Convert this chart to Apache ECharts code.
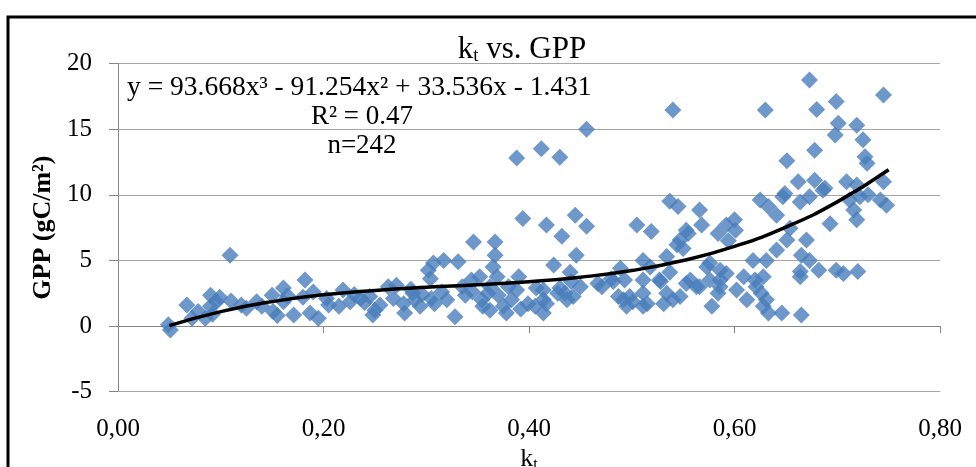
<html lang="en">
<head>
  <meta charset="UTF-8">
  <title>kt vs. GPP</title>
  <script src="https://cdn.jsdelivr.net/npm/echarts@6/dist/echarts.min.js"></script>
  <style>
    body { margin: 0; padding: 0; background: #fff; }
    #chart { width: 976px; height: 467px; }
  </style>
</head>
<body>
  <div id="chart"></div>
  <script>
    let kt = [
      0.049, 0.051, 0.067, 0.072, 0.078, 0.085, 0.090, 0.090, 0.099, 0.096,
      0.109, 0.125, 0.135, 0.150, 0.151, 0.161, 0.161, 0.171, 0.182, 0.180,
      0.187, 0.195, 0.190, 0.203, 0.219, 0.226, 0.236, 0.245, 0.248, 0.255,
      0.263, 0.155, 0.165, 0.205, 0.230, 0.250, 0.140, 0.120, 0.092, 0.215,
      0.240, 0.110,
      0.271, 0.268, 0.279, 0.278, 0.289, 0.294, 0.302, 0.304, 0.307, 0.317,
      0.305, 0.308, 0.320, 0.328, 0.331, 0.338, 0.344, 0.346, 0.352, 0.354,
      0.355, 0.362, 0.367, 0.367, 0.365, 0.369, 0.362, 0.375, 0.370, 0.380,
      0.383, 0.388, 0.390, 0.394, 0.399, 0.406, 0.407, 0.287, 0.392, 0.285,
      0.296, 0.315, 0.335, 0.345, 0.360, 0.378,
      0.388, 0.412, 0.430, 0.456, 0.540, 0.417, 0.432, 0.445, 0.456, 0.446,
      0.424, 0.440, 0.441, 0.505, 0.519, 0.511, 0.489, 0.537, 0.545, 0.544,
      0.534, 0.414, 0.414, 0.430, 0.435, 0.443, 0.450, 0.467, 0.482, 0.487,
      0.492, 0.501, 0.511, 0.515, 0.511, 0.528, 0.534, 0.540, 0.414, 0.417,
      0.428, 0.437, 0.471, 0.480, 0.493, 0.495, 0.511, 0.518, 0.527, 0.537,
      0.550, 0.547, 0.553, 0.553, 0.531, 0.498, 0.547, 0.557, 0.563,
      0.630, 0.566, 0.568, 0.555, 0.584, 0.592, 0.600, 0.601, 0.625, 0.633,
      0.641, 0.594, 0.641, 0.618, 0.631, 0.573, 0.578, 0.584, 0.586, 0.592,
      0.602, 0.609, 0.612, 0.621, 0.628, 0.631, 0.633, 0.651, 0.649, 0.654,
      0.651, 0.620, 0.626, 0.628, 0.646, 0.576, 0.586, 0.576, 0.566, 0.586,
      0.647,
      0.673, 0.680, 0.699, 0.745, 0.701, 0.698, 0.719, 0.725, 0.678, 0.727,
      0.729, 0.709, 0.745, 0.662, 0.678, 0.688, 0.719, 0.722, 0.730, 0.748,
      0.712, 0.716, 0.719, 0.693, 0.673, 0.664, 0.686, 0.670, 0.665, 0.673,
      0.682, 0.664, 0.699, 0.664, 0.706, 0.720, 0.665, 0.742
    ];
    // GPP values (gC/m2), same order as kt
    let gpp = [
      0.1, -0.3, 1.6, 0.6, 1.1, 0.6, 2.35, 1.5, 2.2, 1.85,
      5.4, 1.35, 1.85, 2.35, 1.1, 2.9, 1.85, 0.85, 3.5, 2.2,
      1.0, 0.6, 2.6, 2.1, 2.75, 1.85, 2.1, 2.25, 0.85, 1.6,
      3.0, 0.8, 2.3, 1.6, 2.4, 1.2, 1.5, 1.6, 0.9, 1.5,
      1.8, 1.9,
      3.1, 2.1, 1.0, 1.7, 2.0, 1.5, 4.25, 3.6, 4.8, 5.0,
      2.1, 1.7, 2.0, 0.7, 4.9, 2.35, 3.5, 6.4, 3.75, 2.0,
      1.5, 3.0, 6.4, 5.4, 4.5, 3.75, 1.2, 1.5, 2.35, 3.0,
      2.0, 2.75, 3.75, 8.2, 1.7, 1.5, 2.9, 2.5, 1.3, 2.8,
      2.4, 2.6, 3.0, 2.6, 2.5, 1.0,
      12.8, 13.5, 12.85, 15.0, 16.45, 7.7, 6.85, 8.45, 7.6, 5.4,
      4.65, 4.1, 3.4, 7.7, 7.2, 5.0, 4.4, 9.5, 9.1, 6.2,
      5.3, 1.0, 2.0, 2.9, 2.5, 2.25, 3.0, 3.25, 3.4, 2.25,
      2.0, 1.85, 2.5, 1.7, 3.5, 3.4, 2.5, 2.0, 2.75, 1.7,
      2.5, 2.0, 3.0, 3.6, 3.5, 1.5, 1.5, 4.5, 3.5, 4.1,
      5.9, 6.55, 7.3, 3.25, 1.7, 2.25, 2.25, 3.5, 3.0,
      16.45, 8.85, 7.7, 7.05, 7.05, 7.7, 8.1, 7.3, 9.6, 9.1,
      8.45, 6.5, 5.8, 5.0, 5.0, 4.5, 1.5, 2.5, 3.5, 4.0,
      2.75, 3.75, 2.0, 3.0, 3.75, 2.0, 1.0, 12.6, 10.1, 7.45,
      6.55, 3.5, 2.5, 1.5, 1.0, 4.8, 4.25, 3.5, 3.0, 3.0,
      9.85,
      18.75, 16.5, 17.1, 17.6, 15.45, 14.55, 15.3, 14.2, 13.4, 12.9,
      12.4, 11.0, 11.0, 11.0, 11.1, 10.5, 10.75, 9.85, 10.0, 9.2,
      9.6, 8.85, 8.1, 7.8, 9.85, 9.45, 10.35, 6.55, 5.4, 5.0,
      4.25, 3.75, 4.25, 4.15, 4.0, 4.15, 0.85, 9.6
    ];

    // points
    let trendKt = [0.05, 0.10, 0.15, 0.20, 0.25, 0.30, 0.35, 0.40, 0.45, 0.50, 0.55, 0.60, 0.65, 0.70, 0.75];
    let trendGpp = [0.03, 1.10, 1.86, 2.38, 2.71, 2.95, 3.14, 3.38, 3.72, 4.23, 4.99, 6.07, 7.54, 9.46, 11.91];

    let yTicks = [-5, 0, 5, 10, 15, 20];
    let xTicks = [0, 0.2, 0.4, 0.6, 0.8];

    let serif = '"Liberation Serif", "DejaVu Serif", serif';
    let gridGray = '#a6a6a6';

    let chart = echarts.init(document.getElementById('chart'));

    let option = {
      animation: false,
      title: {
        text: '{k|k}{s|t}{k| vs. GPP}',
        left: 517,
        top: 28,
        textAlign: 'center',
        textStyle: {
          fontWeight: 'normal',
          rich: {
            k: { fontFamily: serif, fontSize: 31, fontWeight: 'normal', color: '#000' },
            s: { fontFamily: serif, fontSize: 19, fontWeight: 'normal', color: '#000', padding: [14, 0, 0, 0] }
          }
        }
      },
      grid: {
        left: 118,
        right: 36,
        top: 63.5,
        bottom: 75.3,
        outerBoundsMode: 'none',
        containLabel: false
      },
      xAxis: [
        {
          type: 'value',
          min: xTicks[0],
          max: xTicks[xTicks.length - 1],
          interval: 0.2,
          position: 'bottom',
          axisLine: { onZero: false, lineStyle: { color: gridGray, width: 1 } },
          axisTick: { show: false },
          splitLine: { show: false },
          axisLabel: {
            margin: 25,
            fontFamily: serif,
            fontSize: 25,
            color: '#000',
            formatter: function (v) { return v.toFixed(2).replace('.', ','); }
          },
          name: '{k|k}{s|t}',
          nameLocation: 'middle',
          nameGap: 50,
          nameTextStyle: {
            rich: {
              k: { fontFamily: serif, fontSize: 26, color: '#000' },
              s: { fontFamily: serif, fontSize: 16, color: '#000', padding: [10, 0, 0, 0] }
            }
          }
        },
        {
          type: 'value',
          min: xTicks[0],
          max: xTicks[xTicks.length - 1],
          interval: 0.2,
          position: 'bottom',
          axisLine: { onZero: true, lineStyle: { color: '#868686', width: 1 } },
          axisTick: { show: true, length: 7, lineStyle: { color: '#868686' } },
          axisLabel: { show: false },
          splitLine: { show: false }
        }
      ],
      yAxis: {
        type: 'value',
        min: yTicks[0],
        max: yTicks[yTicks.length - 1],
        interval: 5,
        axisLine: { show: true, lineStyle: { color: '#868686', width: 1 } },
        axisTick: { show: true, length: 9, lineStyle: { color: '#868686' } },
        splitLine: { show: true, lineStyle: { color: gridGray, width: 1 } },
        axisLabel: {
          margin: 26,
          fontFamily: serif,
          fontSize: 25,
          color: '#000'
        },
        name: 'GPP (gC/m²)',
        nameLocation: 'middle',
        nameGap: 58,
        nameTextStyle: {
          fontFamily: serif,
          fontSize: 26,
          fontWeight: 'bold',
          color: '#000'
        }
      },
      graphic: [
        {
          type: 'rect',
          silent: true,
          shape: { x: 8, y: 17, width: 1100, height: 600 },
          style: { fill: 'none', stroke: '#000', lineWidth: 3 }
        },
        {
          type: 'text',
          x: 127,
          y: 88,
          style: {
            text: 'y = 93.668x³ - 91.254x² + 33.536x - 1.431',
            font: '27.5px ' + serif,
            fill: '#000',
            align: 'left',
            verticalAlign: 'middle'
          }
        },
        {
          type: 'text',
          x: 362,
          y: 117,
          style: {
            text: 'R² = 0.47',
            font: '27px ' + serif,
            fill: '#000',
            align: 'center',
            verticalAlign: 'middle'
          }
        },
        {
          type: 'text',
          x: 362,
          y: 146,
          style: {
            text: 'n=242',
            font: '27px ' + serif,
            fill: '#000',
            align: 'center',
            verticalAlign: 'middle'
          }
        }
      ],
      series: [
        {
          type: 'scatter',
          xAxisIndex: 0,
          symbol: 'diamond',
          symbolSize: 17,
          itemStyle: { color: '#4a7ebb' },
          data: kt.map(function (v, i) { return [v, gpp[i]]; }),
          z: 2
        },
        {
          type: 'line',
          xAxisIndex: 0,
          smooth: true,
          showSymbol: false,
          lineStyle: { color: '#000', width: 3.5 },
          data: trendKt.map(function (v, i) { return [v, trendGpp[i]]; }),
          z: 3
        }
      ]
    };

    chart.setOption(option);
  </script>
</body>
</html>
